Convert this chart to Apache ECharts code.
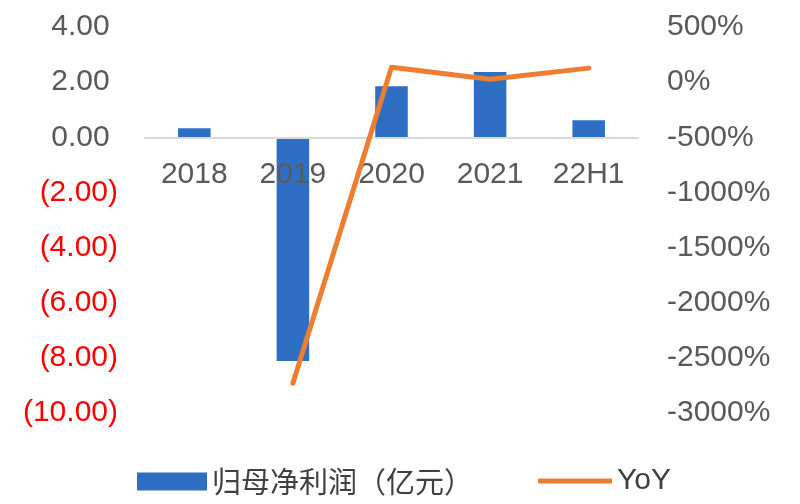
<!DOCTYPE html>
<html>
<head>
<meta charset="utf-8">
<script src="https://cdn.jsdelivr.net/npm/echarts@6/dist/echarts.min.js"></script>
<style>
html,body{margin:0;padding:0;background:#fff;}
#chart{width:800px;height:504px;}
</style>
</head>
<body>
<div id="chart"></div>
<script>
const categories = ['2018', '2019', '2020', '2021', '22H1'];
const profit = [0.33, -8.11, 1.85, 2.37, 0.62];
const yoy = [null, -2730, 136, 27, 127];
const profitName = '归母净利润（亿元）';
const yoyName = 'YoY';

const chart = echarts.init(document.getElementById('chart'));
const labelFont = 'Liberation Sans, Arial, sans-serif';
const gridTop = 27, gridBottom = 91, chartH = 504;
// x axis sits on the zero line of the left axis (range -10..4)
const plotH = chartH - gridTop - gridBottom;
const zeroOffset = -plotH * (0 - (-10)) / (4 - (-10));
chart.setOption({
  animation: false,
  backgroundColor: '#ffffff',
  grid: { left: 145, right: 162, top: gridTop, bottom: gridBottom },
  legend: [
    {
      left: 132, bottom: 3,
      itemWidth: 70, itemHeight: 18, itemGap: 10,
      textStyle: { fontFamily: 'Noto Sans CJK SC', fontSize: 29, color: '#404040' },
      data: [{ name: profitName, icon: 'rect' }]
    },
    {
      left: 533, bottom: 3,
      itemWidth: 74, itemHeight: 5, itemGap: 5,
      textStyle: { fontFamily: labelFont, fontSize: 30, color: '#404040' },
      data: [{ name: yoyName, icon: 'roundRect' }]
    }
  ],
  xAxis: {
    type: 'category',
    data: categories,
    offset: zeroOffset,
    z: 2,
    axisLine: { onZero: false, lineStyle: { color: '#d9d9d9', width: 2 } },
    axisTick: { show: false },
    axisLabel: { fontFamily: labelFont, fontSize: 30, color: '#595959', margin: 22 }
  },
  yAxis: [
    {
      type: 'value', min: -10, max: 4, interval: 2,
      splitLine: { show: false },
      axisLine: { show: false }, axisTick: { show: false },
      axisLabel: {
        fontFamily: labelFont, fontSize: 30, margin: 27,
        color: function (v) { return v < 0 ? '#ff0000' : '#595959'; },
        formatter: function (v) {
          return v < 0 ? '(' + Math.abs(v).toFixed(2) + ')' : v.toFixed(2) + ' ';
        }
      }
    },
    {
      type: 'value', min: -3000, max: 500, interval: 500,
      splitLine: { show: false },
      axisLine: { show: false }, axisTick: { show: false },
      axisLabel: {
        fontFamily: labelFont, fontSize: 30, margin: 29, color: '#595959',
        formatter: function (v) { return v + '%'; }
      }
    }
  ],
  series: [
    {
      name: profitName, type: 'bar', yAxisIndex: 0, z: 1,
      data: profit, barWidth: '33%',
      itemStyle: { color: '#2e6fc4' }
    },
    {
      name: yoyName, type: 'line', yAxisIndex: 1, z: 3,
      data: yoy, symbol: 'none', connectNulls: false,
      lineStyle: { color: '#ed7d31', width: 5, cap: 'round', join: 'round' },
      itemStyle: { color: '#ed7d31' }
    }
  ]
});
</script>
</body>
</html>
